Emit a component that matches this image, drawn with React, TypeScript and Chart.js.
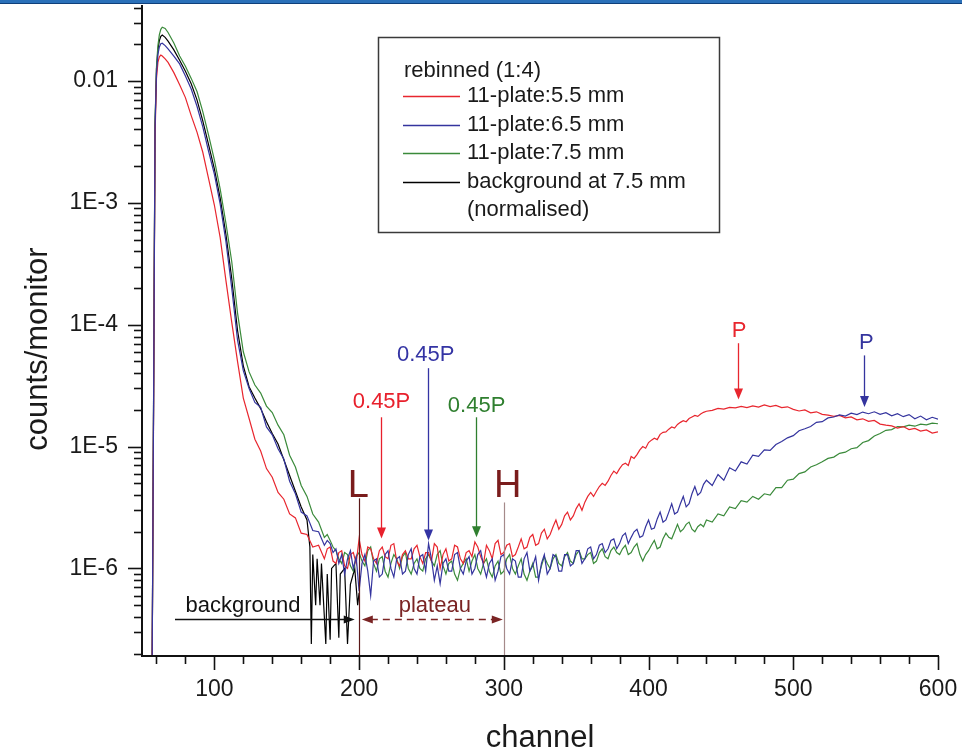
import React, { useEffect, useRef } from "react";
import { Chart, registerables } from "chart.js";

Chart.register(...registerables);

const FONT = '"Liberation Sans", Arial, Helvetica, sans-serif';

// ---------- x categories (channel) ----------
const channels = [
  57, 58, 59, 60, 61, 62, 63, 64, 66, 68,
  72, 76, 80, 84, 88, 92, 96, 100, 104, 108,
  112, 116, 120, 124, 128, 132, 136, 140, 144, 148,
  152, 156, 160, 164, 168, 172,
  176, 178, 180, 182, 184, 186, 188, 190, 192, 194,
  196, 198, 200, 202, 204, 206, 208, 210, 212, 214,
  216, 218, 220, 222, 224, 226, 228, 230, 232, 234,
  236, 238, 240, 242, 244, 246, 248, 250, 252, 254,
  256, 258, 260, 262, 264, 266, 268, 270, 272, 274,
  276, 278, 280, 282, 284, 286, 288, 290, 292, 294,
  296, 298, 300, 302, 304, 306, 308, 310, 312, 314,
  316, 318, 320, 322, 324, 326, 328, 330, 332, 334,
  336, 338, 340, 342, 344, 346, 348, 350, 352, 354,
  356, 358, 360, 362, 364, 366, 368, 370, 372, 374,
  376, 378, 380, 382, 384, 386, 388, 390, 392, 394,
  396, 398, 400, 402, 404, 406, 408, 410, 412, 414,
  416, 418, 420, 422, 424, 426, 428, 430, 432, 434,
  436, 438, 440,
  444, 448, 452, 456, 460, 464, 468, 472, 476, 480,
  484, 488, 492, 496, 500, 504, 508, 512, 516, 520,
  524, 528, 532, 536, 540, 544, 548, 552, 556, 560,
  564, 568, 572, 576, 580, 584, 588, 592, 596, 600,
];

// ---------- series values (counts/monitor) ----------
const plate55 = [
  1.5e-7, 2e-5, 3.5e-3, 1.05e-2, 1.42e-2, 1.58e-2, 1.63e-2, 1.6e-2, 1.52e-2, 1.42e-2,
  1.17e-2, 9.3e-3, 7.3e-3, 5.2e-3, 3.8e-3, 2.6e-3, 1.58e-3, 9.6e-4, 5.2e-4, 2.3e-4,
  1.05e-4, 5.0e-5, 2.5e-5, 1.7e-5, 1.15e-5, 9.2e-6, 6.6e-6, 5.6e-6, 4.2e-6, 3.7e-6,
  2.8e-6, 2.6e-6, 1.95e-6, 1.9e-6, 1.5e-6, 1.55e-6,
  1.2e-6, 1.45e-6, 1.5e-6, 1.15e-6, 1.1e-6, 1.35e-6, 1.4e-6, 1.05e-6, 1.0e-6, 1.3e-6,
  1.35e-6, 1.1e-6, 1.75e-6, 1.3e-6, 1.15e-6, 1.5e-6, 1.45e-6, 1.2e-6, 1.1e-6, 1.4e-6,
  1.5e-6, 1.25e-6, 1.2e-6, 1.55e-6, 1.6e-6, 1.15e-6, 1.05e-6, 1.3e-6, 1.4e-6, 1.2e-6,
  1.2e-6, 1.45e-6, 1.55e-6, 1.25e-6, 1.1e-6, 1.35e-6, 1.35e-6, 1.15e-6, 1.6e-6, 1.5e-6,
  1.0e-6, 1.3e-6, 1.45e-6, 1.15e-6, 1.2e-6, 1.55e-6, 1.5e-6, 1.2e-6, 1.1e-6, 1.35e-6,
  1.4e-6, 1.25e-6, 1.65e-6, 1.5e-6, 1.25e-6, 1.1e-6, 1.55e-6, 1.4e-6, 1.2e-6, 1.6e-6,
  1.7e-6, 1.3e-6, 1.35e-6, 1.55e-6, 1.6e-6, 1.25e-6, 1.3e-6, 1.5e-6, 1.75e-6, 1.45e-6,
  1.5e-6, 1.8e-6, 1.9e-6, 1.55e-6, 1.6e-6, 1.95e-6, 2.1e-6, 1.75e-6, 1.9e-6, 2.2e-6,
  2.5e-6, 2.1e-6, 2.3e-6, 2.7e-6, 2.9e-6, 2.5e-6, 2.7e-6, 3.1e-6, 3.4e-6, 3.0e-6,
  3.5e-6, 3.9e-6, 4.2e-6, 3.9e-6, 4.3e-6, 4.7e-6, 5.0e-6, 4.8e-6, 5.2e-6, 5.8e-6,
  6.3e-6, 6.0e-6, 6.6e-6, 7.1e-6, 7.3e-6, 7.0e-6, 8.3e-6, 8.0e-6, 8.6e-6, 9.4e-6,
  1.0e-5, 9.7e-6, 1.08e-5, 1.13e-5, 1.17e-5, 1.14e-5, 1.26e-5, 1.31e-5, 1.32e-5, 1.39e-5,
  1.45e-5, 1.42e-5, 1.52e-5, 1.58e-5, 1.63e-5, 1.6e-5, 1.7e-5, 1.75e-5, 1.8e-5, 1.77e-5,
  1.85e-5, 1.91e-5, 1.95e-5,
  1.98e-5, 2.06e-5, 2.03e-5, 2.1e-5, 2.08e-5, 2.14e-5, 2.09e-5, 2.16e-5, 2.11e-5, 2.2e-5,
  2.13e-5, 2.18e-5, 2.09e-5, 2.12e-5, 2.02e-5, 1.96e-5, 2.0e-5, 1.89e-5, 1.93e-5, 1.84e-5,
  1.81e-5, 1.77e-5, 1.8e-5, 1.72e-5, 1.75e-5, 1.66e-5, 1.69e-5, 1.61e-5, 1.64e-5, 1.53e-5,
  1.5e-5, 1.48e-5, 1.42e-5, 1.46e-5, 1.38e-5, 1.41e-5, 1.34e-5, 1.37e-5, 1.29e-5, 1.32e-5,
];

const plate65 = [
  1.5e-7, 2.2e-5, 4e-3, 1.15e-2, 1.65e-2, 1.9e-2, 2.02e-2, 2.04e-2, 1.95e-2, 1.83e-2,
  1.6e-2, 1.38e-2, 1.1e-2, 8.6e-3, 6.2e-3, 4.2e-3, 2.65e-3, 1.72e-3, 9.8e-4, 4.8e-4,
  2.0e-4, 7.5e-5, 4.2e-5, 3.0e-5, 2.3e-5, 2.1e-5, 1.45e-5, 1.25e-5, 9.6e-6, 7.9e-6,
  5.2e-6, 4.1e-6, 2.9e-6, 2.7e-6, 2.05e-6, 2.0e-6,
  1.55e-6, 1.7e-6, 1.6e-6, 1.35e-6, 1.45e-6, 1.1e-6, 1.3e-6, 9.0e-7, 1.2e-6, 1.4e-6,
  1.0e-6, 1.25e-6, 6.5e-7, 1.1e-6, 1.3e-6, 9.5e-7, 6.0e-7, 1.15e-6, 1.2e-6, 8.5e-7,
  9.0e-7, 1.3e-6, 1.4e-6, 1.0e-6, 8.5e-7, 1.2e-6, 1.25e-6, 9.0e-7, 9.5e-7, 1.3e-6,
  1.45e-6, 1.0e-6, 9.0e-7, 1.25e-6, 1.3e-6, 9.5e-7, 1.6e-6, 1.2e-6, 8.0e-7, 1.05e-6,
  7.5e-7, 1.1e-6, 1.2e-6, 9.5e-7, 9.5e-7, 1.3e-6, 1.35e-6, 1.0e-6, 9.0e-7, 1.15e-6,
  1.25e-6, 9.0e-7, 1.0e-6, 1.3e-6, 1.4e-6, 1.05e-6, 8.5e-7, 1.1e-6, 1.2e-6, 8.0e-7,
  9.5e-7, 1.25e-6, 1.3e-6, 1.0e-6, 9.0e-7, 1.2e-6, 1.15e-6, 8.5e-7, 8.5e-7, 1.2e-6,
  1.35e-6, 9.5e-7, 1.05e-6, 1.25e-6, 8.0e-7, 1.1e-6, 1.3e-6, 9.0e-7, 1.0e-6, 1.3e-6,
  1.25e-6, 9.5e-7, 9.5e-7, 1.3e-6, 1.3e-6, 1.05e-6, 1.1e-6, 1.4e-6, 1.4e-6, 1.1e-6,
  1.2e-6, 1.45e-6, 1.5e-6, 1.2e-6, 1.3e-6, 1.55e-6, 1.6e-6, 1.35e-6, 1.45e-6, 1.7e-6,
  1.75e-6, 1.45e-6, 1.6e-6, 1.85e-6, 1.95e-6, 1.6e-6, 1.8e-6, 2.0e-6, 2.1e-6, 1.8e-6,
  1.85e-6, 2.2e-6, 2.5e-6, 2.1e-6, 2.15e-6, 2.55e-6, 2.9e-6, 2.4e-6, 2.5e-6, 2.9e-6,
  3.4e-6, 2.8e-6, 2.9e-6, 3.4e-6, 3.9e-6, 3.2e-6, 3.4e-6, 4.1e-6, 4.7e-6, 4.0e-6,
  4.2e-6, 4.9e-6, 5.3e-6,
  4.8e-6, 5.9e-6, 5.3e-6, 6.7e-6, 6.3e-6, 7.5e-6, 7.2e-6, 8.5e-6, 8.3e-6, 9.4e-6,
  9.3e-6, 1.04e-5, 1.1e-5, 1.18e-5, 1.23e-5, 1.35e-5, 1.4e-5, 1.46e-5, 1.58e-5, 1.6e-5,
  1.72e-5, 1.75e-5, 1.82e-5, 1.78e-5, 1.88e-5, 1.83e-5, 1.92e-5, 1.86e-5, 1.93e-5, 1.84e-5,
  1.9e-5, 1.79e-5, 1.86e-5, 1.76e-5, 1.83e-5, 1.69e-5, 1.78e-5, 1.66e-5, 1.74e-5, 1.68e-5,
];

const plate75 = [
  1.5e-7, 2.5e-5, 4.5e-3, 1.3e-2, 1.95e-2, 2.4e-2, 2.65e-2, 2.76e-2, 2.7e-2, 2.5e-2,
  2.05e-2, 1.6e-2, 1.32e-2, 1.05e-2, 8.2e-3, 5.6e-3, 3.6e-3, 2.25e-3, 1.3e-3, 6.8e-4,
  3.3e-4, 1.25e-4, 6.0e-5, 4.1e-5, 3.2e-5, 2.75e-5, 2.15e-5, 1.9e-5, 1.5e-5, 1.25e-5,
  8.5e-6, 6.8e-6, 4.8e-6, 3.9e-6, 2.8e-6, 2.4e-6,
  1.8e-6, 1.9e-6, 1.7e-6, 1.5e-6, 1.4e-6, 1.2e-6, 1.1e-6, 1.35e-6, 1.3e-6, 1.05e-6,
  9.5e-7, 1.25e-6, 1.35e-6, 1.15e-6, 1.05e-6, 1.4e-6, 1.5e-6, 1.1e-6, 9.5e-7, 1.2e-6,
  1.25e-6, 9.5e-7, 8.5e-7, 1.1e-6, 1.3e-6, 1.2e-6, 1.0e-6, 1.25e-6, 1.35e-6, 1.0e-6,
  9.0e-7, 1.1e-6, 1.2e-6, 1.0e-6, 9.5e-7, 1.2e-6, 1.3e-6, 1.15e-6, 1.05e-6, 1.3e-6,
  1.4e-6, 1.05e-6, 9.0e-7, 1.1e-6, 1.15e-6, 9.0e-7, 8.0e-7, 1.0e-6, 1.1e-6, 1.2e-6,
  9.5e-7, 1.15e-6, 1.3e-6, 1.0e-6, 9.0e-7, 1.1e-6, 1.2e-6, 9.5e-7, 8.5e-7, 1.05e-6,
  1.15e-6, 9.0e-7, 9.5e-7, 1.2e-6, 1.3e-6, 1.0e-6, 9.0e-7, 1.05e-6, 1.2e-6, 9.0e-7,
  8.0e-7, 9.5e-7, 1.1e-6, 8.5e-7, 8.5e-7, 1.05e-6, 1.25e-6, 1.1e-6, 1.0e-6, 1.2e-6,
  1.3e-6, 1.1e-6, 1.05e-6, 1.25e-6, 1.35e-6, 1.15e-6, 1.1e-6, 1.3e-6, 1.4e-6, 1.2e-6,
  1.2e-6, 1.3e-6, 1.35e-6, 1.1e-6, 1.15e-6, 1.35e-6, 1.45e-6, 1.25e-6, 1.2e-6, 1.4e-6,
  1.5e-6, 1.35e-6, 1.3e-6, 1.45e-6, 1.55e-6, 1.3e-6, 1.35e-6, 1.5e-6, 1.6e-6, 1.3e-6,
  1.15e-6, 1.3e-6, 1.4e-6, 1.55e-6, 1.7e-6, 1.45e-6, 1.5e-6, 1.75e-6, 1.95e-6, 1.8e-6,
  1.75e-6, 2.0e-6, 2.3e-6, 2.0e-6, 2.1e-6, 2.3e-6, 2.4e-6, 2.1e-6, 2.0e-6, 2.2e-6,
  2.3e-6, 2.2e-6, 2.5e-6,
  2.4e-6, 2.8e-6, 2.7e-6, 3.2e-6, 3.1e-6, 3.6e-6, 3.5e-6, 3.9e-6, 3.7e-6, 4.1e-6,
  4.0e-6, 4.6e-6, 4.6e-6, 5.3e-6, 5.4e-6, 6.0e-6, 6.2e-6, 6.8e-6, 7.1e-6, 7.5e-6,
  8.0e-6, 8.2e-6, 8.8e-6, 9.0e-6, 9.6e-6, 9.8e-6, 1.08e-5, 1.12e-5, 1.22e-5, 1.28e-5,
  1.36e-5, 1.38e-5, 1.46e-5, 1.45e-5, 1.5e-5, 1.47e-5, 1.53e-5, 1.51e-5, 1.56e-5, 1.54e-5,
];

const backgroundChannels = [
  57, 58, 59, 60, 61, 62, 63, 64, 66, 68,
  72, 76, 80, 84, 88, 92, 96, 100, 104, 108,
  112, 116, 120, 124, 128, 132, 136, 140, 144, 148,
  152, 156, 160, 164,
  166, 167, 168, 170, 171, 173, 174, 177, 178, 180,
  181, 184, 186, 187, 190, 192, 194, 197, 199, 200,
];
const background75 = [
  1.5e-7, 2.4e-5, 4.3e-3, 1.25e-2, 1.8e-2, 2.15e-2, 2.32e-2, 2.38e-2, 2.28e-2, 2.12e-2,
  1.8e-2, 1.48e-2, 1.2e-2, 9.5e-3, 7.0e-3, 4.7e-3, 3.0e-3, 1.9e-3, 1.1e-3, 5.5e-4,
  2.4e-4, 9.0e-5, 4.6e-5, 3.1e-5, 2.5e-5, 2.05e-5, 1.6e-5, 1.28e-5, 1.05e-5, 7.8e-6,
  5.8e-6, 4.3e-6, 3.2e-6, 2.5e-6,
  1.5e-6, 2.4e-7, 1.3e-6, 5.0e-7, 1.2e-6, 5.0e-7, 1.1e-6, 2.4e-7, 9.0e-7, 2.6e-7,
  1.0e-6, 1.1e-6, 2.7e-7, 9.0e-7, 1.0e-6, 2.4e-7, 7.4e-7, 1.0e-6, 5.0e-7, 6.3e-7,
];

// ---------- labels & ticks ----------
const seriesLabels = ["11-plate:5.5 mm", "11-plate:6.5 mm", "11-plate:7.5 mm", "background at 7.5 mm"];
const legendTitle = "rebinned (1:4)";
const legendExtraLine = "(normalised)";
const xTitle = "channel";
const yTitle = "counts/monitor";
const xTickValues = [100, 200, 300, 400, 500, 600];
const xTickLabels = ["100", "200", "300", "400", "500", "600"];
const yTickValues = [1e-6, 1e-5, 1e-4, 1e-3, 1e-2];
const yTickLabels = ["1E-6", "1E-5", "1E-4", "1E-3", "0.01"];

// ---------- colours ----------
const RED = "#e8262e";
const BLUE = "#34349e";
const GREEN = "#3a8a3a";
const BLACK = "#000000";
const MAROON = "#7a1c1c";
const seriesColors = [RED, BLUE, GREEN, BLACK];

// ---------- annotations (data coordinates) ----------
const peakArrows = [
  { text: "0.45P", color: "#e8202c", channel: 215, textChannel: 215.5, top: 1.74e-5, tip: 1.76e-6, textValue: 2.32e-5 },
  { text: "0.45P", color: "#3434a4", channel: 247.5, textChannel: 246, top: 4.4e-5, tip: 1.7e-6, textValue: 5.62e-5 },
  { text: "0.45P", color: "#2f7f2f", channel: 280.7, textChannel: 281.2, top: 1.74e-5, tip: 1.8e-6, textValue: 2.14e-5 },
  { text: "P", color: RED, channel: 462, textChannel: 462.5, top: 7.05e-5, tip: 2.43e-5, textValue: 8.9e-5 },
  { text: "P", color: BLUE, channel: 549, textChannel: 550.5, top: 5.6e-5, tip: 2.11e-5, textValue: 7.1e-5 },
];
const limitMarks = [
  { text: "L", channel: 200, textChannel: 199.4, lineTop: 3.76e-6, textValue: 3.85e-6, lineColor: "#5a1818" },
  { text: "H", channel: 300, textChannel: 302.7, lineTop: 3.48e-6, textValue: 3.85e-6, lineColor: "#a58a8a" },
];
const rangeArrows = [
  { text: "background", color: "#111111", from: 72.8, to: 197, value: 3.88e-7, textChannel: 119.8, textValue: 4.97e-7, both: false, dashed: false },
  { text: "plateau", color: "#7a2424", from: 201.9, to: 299.3, value: 3.88e-7, textChannel: 252.3, textValue: 4.97e-7, both: true, dashed: true },
];

function pts(xs: number[], ys: number[]) {
  return xs.map((x, i) => ({ x, y: ys[i] }));
}

function arrowHead(ctx: CanvasRenderingContext2D, x1: number, y1: number, x2: number, y2: number, len: number, half: number) {
  const a = Math.atan2(y2 - y1, x2 - x1);
  const c = Math.cos(a), s = Math.sin(a);
  ctx.beginPath();
  ctx.moveTo(x2, y2);
  ctx.lineTo(x2 - c * len - s * half, y2 - s * len + c * half);
  ctx.lineTo(x2 - c * len + s * half, y2 - s * len - c * half);
  ctx.closePath();
  ctx.fill();
}

const overlay = {
  id: "overlay",
  afterDatasetsDraw(chart: any) {
    const ctx: CanvasRenderingContext2D = chart.ctx;
    const xs = chart.scales.x, ys = chart.scales.y;
    const X = (c: number) => xs.getPixelForValue(c);
    const Y = (v: number) => ys.getPixelForValue(v);
    const area = chart.chartArea;
    ctx.save();

    for (const m of limitMarks) {
      const x = Math.round(X(m.channel)) + 0.5;
      ctx.strokeStyle = m.lineColor;
      ctx.lineWidth = 1.2;
      ctx.beginPath();
      ctx.moveTo(x, Y(m.lineTop));
      ctx.lineTo(x, area.bottom);
      ctx.stroke();
      ctx.fillStyle = MAROON;
      ctx.font = `38px ${FONT}`;
      ctx.textAlign = "center";
      ctx.textBaseline = "alphabetic";
      ctx.fillText(m.text, X(m.textChannel), Y(m.textValue));
    }

    for (const a of peakArrows) {
      const x = Math.round(X(a.channel)) + 0.5;
      const y1 = Y(a.top), y2 = Y(a.tip);
      ctx.strokeStyle = a.color;
      ctx.fillStyle = a.color;
      ctx.lineWidth = 1.3;
      ctx.beginPath();
      ctx.moveTo(x, y1);
      ctx.lineTo(x, y2 - 9);
      ctx.stroke();
      arrowHead(ctx, x, y1, x, y2, 11, 4.5);
      ctx.font = `22px ${FONT}`;
      ctx.textAlign = "center";
      ctx.textBaseline = "middle";
      ctx.fillText(a.text, X(a.textChannel), Y(a.textValue));
    }

    for (const r of rangeArrows) {
      const y = Math.round(Y(r.value)) + 0.5;
      const x1 = X(r.from), x2 = X(r.to);
      ctx.strokeStyle = r.color;
      ctx.fillStyle = r.color;
      ctx.lineWidth = 1.3;
      ctx.setLineDash(r.dashed ? [7, 5] : []);
      ctx.beginPath();
      ctx.moveTo(r.both ? x1 + 9 : x1, y);
      ctx.lineTo(x2 - 9, y);
      ctx.stroke();
      ctx.setLineDash([]);
      arrowHead(ctx, x1, y, x2, y, 11, 4);
      if (r.both) arrowHead(ctx, x2, y, x1, y, 11, 4);
      ctx.font = `22px ${FONT}`;
      ctx.textAlign = "center";
      ctx.textBaseline = "middle";
      ctx.fillText(r.text, X(r.textChannel), Y(r.textValue));
    }
    ctx.restore();
  },
  afterDraw(chart: any) {
    const ctx: CanvasRenderingContext2D = chart.ctx;
    const xs = chart.scales.x, ys = chart.scales.y;
    const area = chart.chartArea;
    ctx.save();
    ctx.strokeStyle = "#111";
    ctx.lineWidth = 2;
    ctx.beginPath();
    ctx.moveTo(area.left, area.top);
    ctx.lineTo(area.left, area.bottom + 1);
    ctx.lineTo(area.right + 1, area.bottom + 1);
    ctx.stroke();
    ctx.lineWidth = 1.6;
    const yMin = ys.min, yMax = ys.max;
    for (let e = -8; e <= -1; e++) {
      for (let m = 1; m <= 9; m++) {
        const v = m * Math.pow(10, e);
        if (v < yMin || v > yMax) continue;
        const y = Math.round(ys.getPixelForValue(v)) + 0.5;
        const len = m === 1 ? 14 : 8;
        ctx.beginPath();
        ctx.moveTo(area.left - len, y);
        ctx.lineTo(area.left, y);
        ctx.stroke();
      }
    }
    for (let c = 60; c <= 600; c += 20) {
      const x = Math.round(xs.getPixelForValue(c)) + 0.5;
      const len = c % 100 === 0 ? 14 : 8;
      ctx.beginPath();
      ctx.moveTo(x, area.bottom + 1);
      ctx.lineTo(x, area.bottom + 1 + len);
      ctx.stroke();
    }
    ctx.fillStyle = "#1a1a1a";
    ctx.font = `31px ${FONT}`;
    ctx.textAlign = "center";
    ctx.textBaseline = "alphabetic";
    ctx.fillText(xTitle, (area.left + area.right) / 2, 747);
    ctx.save();
    ctx.translate(47, 349);
    ctx.rotate(-Math.PI / 2);
    ctx.fillText(yTitle, 0, 0);
    ctx.restore();

    ctx.fillStyle = "#ffffff";
    ctx.fillRect(378.5, 37.5, 341, 195);
    ctx.strokeStyle = "#3a3a3a";
    ctx.lineWidth = 1.5;
    ctx.strokeRect(378.5, 37.5, 341, 195);
    ctx.font = `22px ${FONT}`;
    ctx.textAlign = "left";
    ctx.textBaseline = "middle";
    ctx.fillStyle = "#1a1a1a";
    ctx.fillText(legendTitle, 404, 71);
    const rows = [95.5, 124.5, 153, 181.5];
    seriesLabels.forEach((lab, i) => {
      ctx.strokeStyle = seriesColors[i];
      ctx.lineWidth = 1.4;
      ctx.beginPath();
      ctx.moveTo(403, Math.round(rows[i]) + 0.5);
      ctx.lineTo(460, Math.round(rows[i]) + 0.5);
      ctx.stroke();
      ctx.fillStyle = "#1a1a1a";
      ctx.fillText(lab, 467, rows[i]);
    });
    ctx.fillText(legendExtraLine, 467, 210);
    ctx.restore();
  },
};

export default function App() {
  const ref = useRef<HTMLCanvasElement>(null);
  useEffect(() => {
    const datasets = [
      { label: seriesLabels[3], data: pts(backgroundChannels, background75), borderColor: BLACK, order: 4 },
      { label: seriesLabels[2], data: pts(channels, plate75), borderColor: GREEN, order: 3 },
      { label: seriesLabels[0], data: pts(channels, plate55), borderColor: RED, order: 2 },
      { label: seriesLabels[1], data: pts(channels, plate65), borderColor: BLUE, order: 1 },
    ].map((d) => ({ ...d, borderWidth: 1.2, pointRadius: 0, tension: 0, fill: false }));

    const chart = new Chart(ref.current as HTMLCanvasElement, {
      type: "line",
      data: { datasets },
      options: {
        responsive: false,
        animation: false,
        events: [],
        layout: { padding: { left: 0, right: 24, top: 5, bottom: 0 } },
        plugins: { legend: { display: false }, tooltip: { enabled: false }, title: { display: false } },
        scales: {
          x: {
            type: "linear",
            min: 50,
            max: 600,
            bounds: "data",
            grid: { display: false, drawTicks: false },
            border: { display: false },
            ticks: {
              padding: 21,
              autoSkip: false,
              maxRotation: 0,
              color: "#1a1a1a",
              font: { family: FONT, size: 23 },
              callback: (v: any) => xTickLabels[xTickValues.indexOf(Number(v))] ?? "",
            },
            afterBuildTicks: (s: any) => {
              s.ticks = xTickValues.map((v) => ({ value: v }));
            },
            afterFit: (s: any) => {
              s.height = 95;
              s.paddingLeft = 0;
              s.paddingRight = 0;
            },
          },
          y: {
            type: "logarithmic",
            min: 1.95e-7,
            max: 0.042,
            bounds: "data",
            grid: { display: false, drawTicks: false },
            border: { display: false },
            ticks: {
              padding: 24,
              autoSkip: false,
              color: "#1a1a1a",
              font: { family: FONT, size: 23 },
              callback: (v: any) => yTickLabels[yTickValues.indexOf(Number(v))] ?? "",
            },
            afterBuildTicks: (s: any) => {
              s.ticks = yTickValues.map((v) => ({ value: v }));
            },
            afterFit: (s: any) => {
              s.width = 142;
              s.paddingTop = 0;
              s.paddingBottom = 0;
            },
          },
        },
      } as any,
      plugins: [overlay],
    });
    return () => chart.destroy();
  }, []);

  return (
    <div style={{ position: "fixed", left: 0, top: 0, width: 962, height: 750, background: "#ffffff" }}>
      <canvas ref={ref} width={962} height={750} style={{ display: "block", width: 962, height: 750 }} />
      <div style={{ position: "absolute", left: 0, top: 0, width: 962, height: 3, background: "#2a70b9" }} />
      <div style={{ position: "absolute", left: 0, top: 3, width: 962, height: 1, background: "#0f3f7a" }} />
    </div>
  );
}
